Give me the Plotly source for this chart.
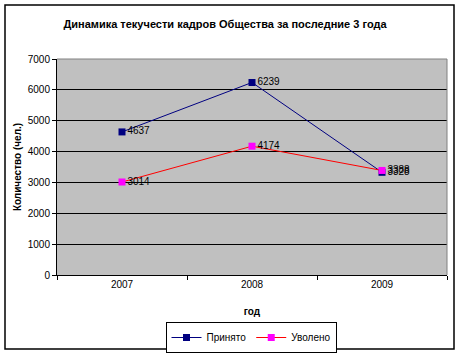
import plotly.graph_objects as go

years = ["2007", "2008", "2009"]
prinyato = [4637, 6239, 3328]
uvoleno = [3014, 4174, 3388]
y_ticks = [0, 1000, 2000, 3000, 4000, 5000, 6000, 7000]

FONT = "Liberation Sans, Arial, sans-serif"

fig = go.Figure()
fig.add_trace(go.Scatter(
    x=years, y=prinyato, name="Принято", mode="lines+markers+text",
    line=dict(color="#000080", width=1),
    marker=dict(symbol="square", size=7, color="#000080"),
    text=[str(v) for v in prinyato], textposition="middle right",
    textfont=dict(family=FONT, size=10, color="#000000"),
))
fig.add_trace(go.Scatter(
    x=years, y=uvoleno, name="Уволено", mode="lines+markers+text",
    line=dict(color="#FF0000", width=1),
    marker=dict(symbol="square", size=7, color="#FF00FF"),
    text=[str(v) for v in uvoleno], textposition="middle right",
    textfont=dict(family=FONT, size=10, color="#000000"),
))

fig.update_layout(
    width=459, height=355,
    margin=dict(l=57, r=12, t=59, b=80, autoexpand=False),
    paper_bgcolor="white", plot_bgcolor="#C0C0C0",
    font=dict(family=FONT, size=10, color="#000000"),
    title=dict(text="<b>Динамика текучести кадров Общества за последние 3 года</b>",
               x=225 / 459, xanchor="center", y=1 - 24 / 355, yanchor="middle",
               font=dict(family=FONT, size=11, color="#000000")),
    showlegend=True,
    legend=dict(orientation="h", x=(251 - 57) / 390, xanchor="center",
                y=(275 - 322) / 216, yanchor="top",
                bordercolor="#000000", borderwidth=1, bgcolor="white",
                font=dict(family=FONT, size=10), itemwidth=30,
                tracegroupgap=0),
    xaxis=dict(type="category", range=[-0.5, 2.5], showgrid=False,
               ticks="outside", tickson="boundaries", ticklen=4,
               tickcolor="#000000", showline=True, linecolor="#000000",
               linewidth=1, tickfont=dict(size=10), automargin=False,
               title=dict(text="<b>год</b>", standoff=18,
                          font=dict(family=FONT, size=10))),
    yaxis=dict(range=[0, 7000], tickvals=y_ticks, showgrid=True,
               gridcolor="#000000", gridwidth=1, ticks="outside", ticklen=4,
               tickcolor="#000000", showline=True, linecolor="#000000",
               linewidth=1, zeroline=False, tickfont=dict(size=10),
               automargin=False,
               title=dict(text="<b>Количество (чел.)</b>", standoff=4,
                          font=dict(family=FONT, size=10))),
    shapes=[
        dict(type="rect", xref="paper", yref="paper",
             x0=(5 - 57) / 390, x1=(454 - 57) / 390,
             y0=(275 - 349) / 216, y1=(275 - 5) / 216,
             line=dict(color="#000000", width=1.5), layer="below"),
        dict(type="line", xref="paper", yref="paper", x0=0, x1=1, y0=1, y1=1,
             line=dict(color="#808080", width=1)),
        dict(type="line", xref="paper", yref="paper", x0=1, x1=1, y0=0, y1=1,
             line=dict(color="#808080", width=1)),
    ],
)

fig.write_html("out.html")
